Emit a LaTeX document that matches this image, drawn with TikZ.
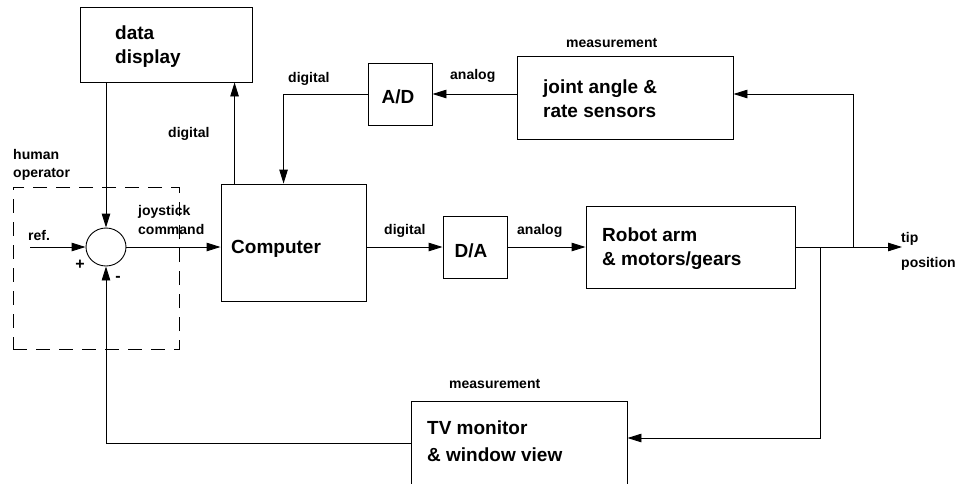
\documentclass[tikz,border=0pt]{standalone}
\usepackage{fontspec}
\setmainfont{Liberation Sans}
\usetikzlibrary{arrows.meta,positioning,calc,shapes.geometric}

\begin{document}
\begin{tikzpicture}[x=1pt,y=-1pt,
    blk/.style={draw=black,line width=0.9pt,inner sep=0pt},
    blktxt/.style={font=\fontsize{19}{24}\selectfont\bfseries,inner sep=0pt,align=left},
    lbl/.style={font=\fontsize{14}{18}\selectfont\bfseries,inner sep=0pt,align=left},
    sig/.style={line width=0.9pt,-{Triangle[length=14pt,width=8.5pt]}},
    wire/.style={line width=0.9pt}]
  \useasboundingbox (0,0) rectangle (956,483);
  \clip (0,0) rectangle (956,483);
  % Blocks
  \node[blk,minimum width=172pt,minimum height=75pt] (disp) at (166,44.5) {};
  \node[blk,minimum width=145pt,minimum height=117pt] (comp) at (293.5,242.5) {};
  \node[blk,minimum width=64pt,minimum height=62pt] (ad) at (400,94) {};
  \node[blk,minimum width=64pt,minimum height=62pt] (da) at (475,247) {};
  \node[blk,minimum width=216pt,minimum height=83pt] (joint) at (625,97.5) {};
  \node[blk,minimum width=209pt,minimum height=82pt] (robot) at (690.5,247) {};
  \node[blk,minimum width=216pt,minimum height=89pt] (tv) at (519,445.5) {};
  \node[blk,ellipse,minimum width=40pt,minimum height=38pt] (sum) at (106,247) {};
  % Human operator (dashed)
  \node[draw=black,line width=0.9pt,dash pattern=on 14pt off 9pt,inner sep=0pt,
        minimum width=166pt,minimum height=162pt] (oper) at (96,268) {};
  % Block texts
  \node[blktxt,anchor=north west] (disptxt) at (115,25.3) {data\\display};
  \node[blktxt,anchor=base west] (comptxt) at (231,253) {Computer};
  \node[blktxt,anchor=base] (adtxt) at (398,103) {A/D};
  \node[blktxt,anchor=base] (datxt) at (471,257) {D/A};
  \node[blktxt,anchor=north west] (jointtxt) at (543,79.3) {joint angle \&\\rate sensors};
  \node[blktxt,anchor=north west] (robottxt) at (602,227.8) {Robot arm\\\& motors/gears};
  \node[blktxt,anchor=north west,font=\fontsize{19}{27}\selectfont\bfseries]
       (tvtxt) at (427,420.3) {TV monitor\\\& window view};
  % Signal labels
  \node[lbl,anchor=north west] (opertxt) at (13,148.9) {human\\operator};
  \node[lbl,anchor=north west,font=\fontsize{14}{19}\selectfont\bfseries]
       (joytxt) at (138,204.9) {joystick\\command};
  \node[lbl,anchor=base west] (reftxt) at (28,240) {ref.};
  \node[lbl,anchor=base west] (diglft) at (168,137) {digital};
  \node[lbl,anchor=base west] (digtop) at (288,82) {digital};
  \node[lbl,anchor=base west] (anatop) at (450,79) {analog};
  \node[lbl,anchor=base west] (meastop) at (566,47) {measurement};
  \node[lbl,anchor=base west] (digmid) at (384,234) {digital};
  \node[lbl,anchor=base west] (anamid) at (517,234) {analog};
  \node[lbl,anchor=north west,font=\fontsize{14}{25}\selectfont\bfseries]
       (tiptxt) at (901,232) {tip\\position};
  \node[lbl,anchor=base west] (measbot) at (449,388) {measurement};
  \node[font=\fontsize{16}{16}\selectfont\bfseries,inner sep=0pt,anchor=base] (plus) at (80,269.6) {+};
  \node[font=\fontsize{16}{16}\selectfont\bfseries,inner sep=0pt,anchor=base] (minus) at (118,281.5) {-};
  % Branch points
  \coordinate (refin) at (30,247);
  \coordinate (tipout) at (902,247);
  \coordinate (bjoint) at (853,247);
  \coordinate (btv) at (820,247);
  % Connectors
  \draw[sig] (refin) -- (sum.west);
  \draw[sig] (sum.north |- disp.south) -- (sum.north);
  \draw[sig] (sum.east) -- (sum.east -| comp.west);
  \draw[sig] ([xshift=14pt]comp.north west) -- ([xshift=14pt]comp.north west |- disp.south);
  \draw[sig] (ad.west) -| ([xshift=63pt]comp.north west);
  \draw[sig] (joint.west |- ad.east) -- (ad.east);
  \draw[sig] (comp.east |- da.west) -- (da.west);
  \draw[sig] (da.east) -- (robot.west);
  \draw[sig] (robot.east) -- (tipout);
  \draw[sig] (bjoint) |- (joint.east |- ad.east);
  \draw[sig] (btv) |- ([yshift=7.5pt]tv.east);
  \draw[sig] ([yshift=2.5pt]tv.west) -| (sum.south);
\end{tikzpicture}
\end{document}
